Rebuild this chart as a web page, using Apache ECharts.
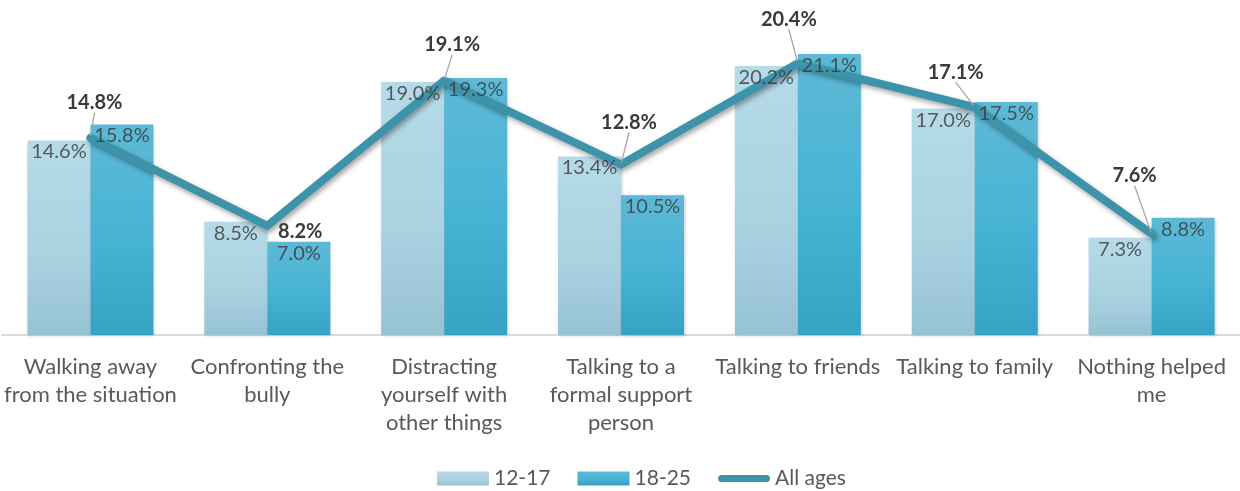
<!DOCTYPE html>
<html>
<head>
<meta charset="utf-8">
<script src="https://cdn.jsdelivr.net/npm/echarts@6/dist/echarts.min.js"></script>
<style>
  html, body { margin: 0; padding: 0; background: #ffffff; }
  #chart { width: 1240px; height: 491px; }
</style>
</head>
<body>
<div id="chart"></div>
<script>
// What helped when being bullied, share of respondents (%)
const categories = [
  'Walking away\nfrom the situation',
  'Confronting the\nbully',
  'Distracting\nyourself with\nother things',
  'Talking to a\nformal support\nperson',
  'Talking to friends',
  'Talking to family',
  'Nothing helped\nme'
];
const age12to17 = [14.6, 8.5, 19.0, 13.4, 20.2, 17.0, 7.3];
const age18to25 = [15.8, 7.0, 19.3, 10.5, 21.1, 17.5, 8.8];
const allAges = [14.8, 8.2, 19.1, 12.8, 20.4, 17.1, 7.6];
const seriesNames = ['12-17', '18-25', 'All ages'];

// Where each "All ages" label sits relative to its point (px), and whether it gets a leader line
const allAgesLabelShift = [[4, -35], [33, 6], [8, -36], [8, -42], [-9, -44], [-19, -35], [-17, -58]];
const allAgesLeader = [true, false, true, true, true, true, true];

const FONT = 'Lato';
const TEXT_DARK = '#3A3A3A';
const TEXT_AXIS = '#595959';
const LINE_COLOR = '#3D93AA';
const BAR_WIDTH = 63;
// thick rounded stroke used as the legend key of the line
const LINE_KEY = 'path://M4,0H54A4,4,0,0,1,54,8H4A4,4,0,0,1,4,0Z';

const lightFill = new echarts.graphic.LinearGradient(0, 0, 0, 1, [
  { offset: 0, color: '#B6DAE8' },
  { offset: 0.6, color: '#A9D2E1' },
  { offset: 1, color: '#97C2D2' }
]);
const darkFill = new echarts.graphic.LinearGradient(0, 0, 0, 1, [
  { offset: 0, color: '#5DB9D6' },
  { offset: 0.55, color: '#47B3D4' },
  { offset: 1, color: '#36A2C4' }
]);

const pct = p => p.value.toFixed(1) + '%';

const barShadow = {
  shadowColor: 'rgba(0,0,0,0.22)',
  shadowBlur: 3,
  shadowOffsetX: 1,
  shadowOffsetY: 1
};

// Bar value labels are drawn by a top layer so the line never hides them;
// each sits just under the top of its bar (left bar / right bar of the pair).
function barValueLabels(name, values, side) {
  return {
    name: name,
    type: 'scatter',
    z: 5,
    silent: true,
    data: values,
    symbol: 'circle',
    symbolSize: 1,
    itemStyle: { color: 'rgba(0,0,0,0)' },
    label: {
      show: true,
      position: 'bottom',
      distance: 1,
      offset: [side * BAR_WIDTH / 2, 0],
      formatter: pct,
      fontFamily: FONT,
      fontSize: 20,
      color: TEXT_DARK
    },
    emphasis: { disabled: true },
    tooltip: { show: false }
  };
}

const chart = echarts.init(document.getElementById('chart'), null, { renderer: 'canvas' });

chart.setOption({
  animation: false,
  backgroundColor: '#ffffff',
  textStyle: { fontFamily: FONT },
  grid: { left: 2, top: 2, width: 1241, bottom: 156, containLabel: false },
  xAxis: {
    type: 'category',
    data: categories,
    axisLine: { show: true, lineStyle: { color: '#D9D9D9', width: 2 } },
    axisTick: { show: false },
    axisLabel: {
      interval: 0,
      margin: 18,
      fontFamily: FONT,
      fontSize: 22,
      lineHeight: 28,
      color: TEXT_AXIS,
      align: 'center'
    }
  },
  yAxis: {
    type: 'value',
    min: 0,
    max: 25,
    show: false,
    splitLine: { show: false }
  },
  legend: {
    left: 432,
    top: 463,
    itemWidth: 52,
    itemHeight: 14,
    itemGap: 27,
    textStyle: { fontFamily: FONT, fontSize: 21, color: TEXT_AXIS },
    data: [
      { name: seriesNames[0], icon: 'rect' },
      { name: seriesNames[1], icon: 'rect' },
      { name: seriesNames[2], icon: LINE_KEY }
    ],
    selectedMode: false
  },
  series: [
    {
      name: seriesNames[0],
      type: 'bar',
      data: age12to17,
      barWidth: BAR_WIDTH,
      barGap: '0%',
      itemStyle: Object.assign({ color: lightFill }, barShadow),
      emphasis: { disabled: true }
    },
    {
      name: seriesNames[1],
      type: 'bar',
      data: age18to25,
      barWidth: BAR_WIDTH,
      barGap: '0%',
      itemStyle: Object.assign({ color: darkFill }, barShadow),
      emphasis: { disabled: true }
    },
    {
      name: seriesNames[2],
      type: 'line',
      data: allAges.map((v, i) => ({
        value: v,
        labelLine: { show: allAgesLeader[i] }
      })),
      symbol: 'circle',
      symbolSize: 4,
      showSymbol: true,
      itemStyle: { color: LINE_COLOR },
      lineStyle: {
        color: LINE_COLOR,
        width: 8,
        cap: 'round',
        join: 'round',
        shadowColor: 'rgba(0,0,0,0.35)',
        shadowBlur: 5,
        shadowOffsetX: 2,
        shadowOffsetY: 3
      },
      label: {
        show: true,
        position: 'inside',
        formatter: pct,
        fontFamily: FONT,
        fontSize: 20,
        fontWeight: 'bold',
        color: TEXT_DARK
      },
      labelLine: {
        show: true,
        lineStyle: { color: '#A6A6A6', width: 1.3 }
      },
      labelLayout: function (params) {
        const s = allAgesLabelShift[params.dataIndex];
        return { dx: s[0], dy: s[1] };
      },
      emphasis: { disabled: true }
    },
    barValueLabels('12-17 values', age12to17, -1),
    barValueLabels('18-25 values', age18to25, 1)
  ]
});
</script>
</body>
</html>
